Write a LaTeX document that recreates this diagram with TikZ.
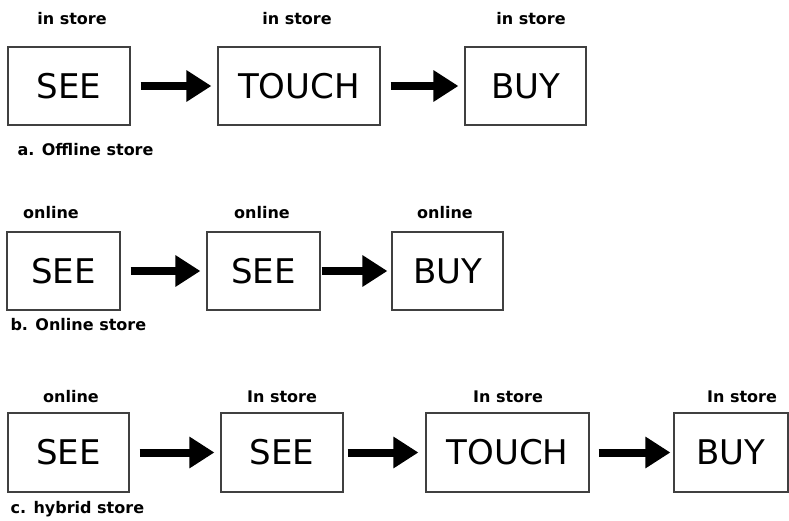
\documentclass[tikz,border=0pt]{standalone}
\usepackage{fontspec}
\setmainfont{DejaVu Sans}
\usetikzlibrary{arrows.meta}

\begin{document}
\begin{tikzpicture}[x=1pt, y=-1pt,
  stage/.style={draw=black!75, line width=1.2pt, minimum height=78pt, inner sep=0pt, font=\fontsize{34}{34}\selectfont},
  place/.style={anchor=base, font=\bfseries\fontsize{16}{16}\selectfont},
  kind/.style={anchor=base west, font=\bfseries\fontsize{16}{16}\selectfont},
  flow/.style={line width=8pt, -{Triangle[length=25pt, width=30pt]}, shorten <=10pt, shorten >=6pt}]

\useasboundingbox (0,0) rectangle (789,521);

\node[stage, minimum width=122pt] (seeA) at (69,86) {SEE};
\node[stage, minimum width=162pt] (touchA) at (299,86) {TOUCH};
\node[stage, minimum width=121pt] (buyA) at (525.5,86) {BUY};

\node[place] (labA1) at (72,25) {in store};
\node[place] (labA2) at (297,25) {in store};
\node[place] (labA3) at (531,25) {in store};
\node[kind] (kindA) at (14,156) {a. Offline store};

\draw[flow] (seeA) -- (touchA);
\draw[flow] (touchA) -- (buyA);

\node[stage, minimum width=113pt] (seeB) at (63.5,271) {SEE};
\node[stage, minimum width=113pt] (seeBB) at (263.5,271) {SEE};
\node[stage, minimum width=111pt] (buyB) at (447.5,271) {BUY};

\node[place] (labB1) at (51,219) {online};
\node[place] (labB2) at (262,219) {online};
\node[place] (labB3) at (445,219) {online};
\node[kind] (kindB) at (7,330) {b. Online store};

\draw[flow] (seeB) -- (seeBB);
\draw[flow, shorten <=1pt, shorten >=4pt] (seeBB) -- (buyB);

\node[stage, minimum width=121pt, minimum height=79pt] (seeC) at (68.5,452.5) {SEE};
\node[stage, minimum width=122pt, minimum height=79pt] (seeCC) at (282,452.5) {SEE};
\node[stage, minimum width=163pt, minimum height=79pt] (touchC) at (507.5,452.5) {TOUCH};
\node[stage, minimum width=114pt, minimum height=79pt] (buyC) at (731,452.5) {BUY};

\node[place] (labC1) at (71,402) {online};
\node[place] (labC2) at (282,402) {In store};
\node[place] (labC3) at (508,402) {In store};
\node[place] (labC4) at (742,402) {In store};
\node[kind] (kindC) at (7,513) {c. hybrid store};

\draw[flow] (seeC) -- (seeCC);
\draw[flow, shorten <=4pt, shorten >=7pt] (seeCC) -- (touchC);
\draw[flow, shorten <=9pt, shorten >=3pt] (touchC) -- (buyC);

\end{tikzpicture}
\end{document}
